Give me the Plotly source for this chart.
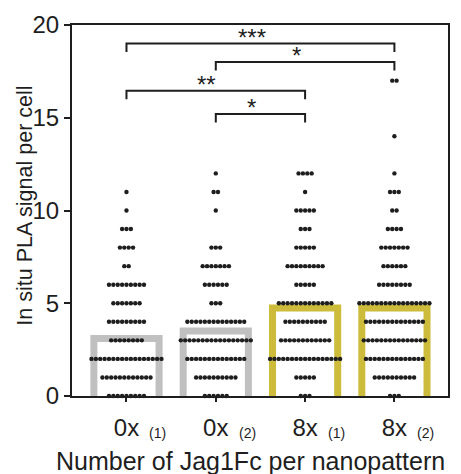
import plotly.graph_objects as go

# ---- data ----
categories = ["0x", "0x", "8x", "8x"]
replicates = ["(1)", "(2)", "(1)", "(2)"]
bar_means = [3.1, 3.5, 4.75, 4.75]
bar_colors = ["#c0c0c0", "#c0c0c0", "#cdbb3c", "#cdbb3c"]

# PLA signal levels and number of cells at each level, per condition
levels_g1 = [0, 1, 2, 3, 4, 5, 6, 7, 8, 9, 10, 11]
counts_g1 = [9, 12, 17, 8, 9, 7, 9, 2, 4, 3, 1, 1]
levels_g2 = [0, 1, 2, 3, 4, 5, 6, 7, 8, 10, 11, 12]
counts_g2 = [6, 10, 14, 17, 14, 3, 6, 7, 3, 1, 2, 1]
levels_g3 = [0, 1, 2, 3, 4, 5, 6, 7, 8, 9, 10, 11, 12]
counts_g3 = [3, 5, 17, 12, 10, 13, 5, 9, 5, 3, 5, 1, 4]
levels_g4 = [0, 1, 2, 3, 4, 5, 6, 7, 8, 9, 10, 11, 12, 14, 17]
counts_g4 = [3, 10, 14, 15, 14, 17, 8, 6, 7, 4, 2, 3, 1, 1, 2]

# significance comparisons: (group a, group b, label, bracket level)
comparisons = [(0, 3, "***", 19.0), (1, 3, "*", 18.0), (0, 2, "**", 16.45), (1, 2, "*", 15.2)]

x_title = "Number of Jag1Fc per nanopattern"
y_title = "In situ PLA signal per cell"

groups = [(levels_g1, counts_g1), (levels_g2, counts_g2),
          (levels_g3, counts_g3), (levels_g4, counts_g4)]

FONT = "Liberation Sans, Arial, sans-serif"
INK = "#1e1e1e"
BAR_W = 0.73
DOT_STEP = 0.049
DROP = 0.45

fig = go.Figure()

# bar outlines (open at the bottom)
for i, (h, c) in enumerate(zip(bar_means, bar_colors)):
    fig.add_trace(go.Scatter(
        x=[i - BAR_W / 2, i - BAR_W / 2, i + BAR_W / 2, i + BAR_W / 2],
        y=[0, h, h, 0], mode="lines",
        line=dict(color=c, width=7), hoverinfo="skip", showlegend=False))

# dots
for i, (lv, ct) in enumerate(groups):
    xs, ys = [], []
    for v, n in zip(lv, ct):
        for k in range(n):
            xs.append(i + (k - (n - 1) / 2) * DOT_STEP)
            ys.append(v)
    fig.add_trace(go.Scatter(x=xs, y=ys, mode="markers",
                             marker=dict(color=INK, size=4.4),
                             cliponaxis=False, showlegend=False))

# significance brackets
for a, b, lab, lvl in comparisons:
    fig.add_trace(go.Scatter(x=[a, a, b, b], y=[lvl - DROP, lvl, lvl, lvl - DROP],
                             mode="lines", line=dict(color=INK, width=2),
                             showlegend=False, hoverinfo="skip"))
    fig.add_annotation(x=(a + b) / 2 - 0.1, y=lvl, text=lab, showarrow=False,
                       xanchor="center", yanchor="bottom", yshift=-9,
                       font=dict(family=FONT, size=24, color=INK))

# replicate subscripts
for i, r in enumerate(replicates):
    fig.add_annotation(x=i + 0.35, y=-0.101, yref="paper", text=r, showarrow=False,
                       xanchor="center", yanchor="middle",
                       font=dict(family=FONT, size=14, color=INK))

# axis titles
fig.add_annotation(x=0.4735, y=-0.174, xref="paper", yref="paper", text=x_title,
                   showarrow=False, xanchor="center", yanchor="middle",
                   font=dict(family=FONT, size=25, color=INK))
fig.add_annotation(x=-0.125, y=0.513, xref="paper", yref="paper", text=y_title,
                   textangle=-90, showarrow=False, xanchor="center", yanchor="middle",
                   font=dict(family=FONT, size=21.5, color=INK))

fig.update_layout(
    width=461, height=474,
    margin=dict(l=72, r=11, t=21, b=78),
    plot_bgcolor="white", paper_bgcolor="white",
    font=dict(family=FONT, color=INK),
    xaxis=dict(range=[-0.61, 3.6], tickmode="array", tickvals=[0, 1, 2, 3],
               ticktext=categories, ticks="outside", ticklen=4, tickwidth=1.5,
               tickcolor=INK, showline=True, linecolor=INK, linewidth=2,
               mirror=True, showgrid=False, zeroline=False, ticklabelstandoff=5,
               tickfont=dict(size=24, family=FONT, color=INK)),
    yaxis=dict(range=[0, 20], tickmode="array", tickvals=[0, 5, 10, 15, 20],
               ticks="outside", ticklen=6, tickwidth=1.5, tickcolor=INK,
               showline=True, linecolor=INK, linewidth=2, mirror=True,
               showgrid=False, zeroline=False,
               tickfont=dict(size=24, family=FONT, color=INK)),
)

fig.write_html("out.html")
